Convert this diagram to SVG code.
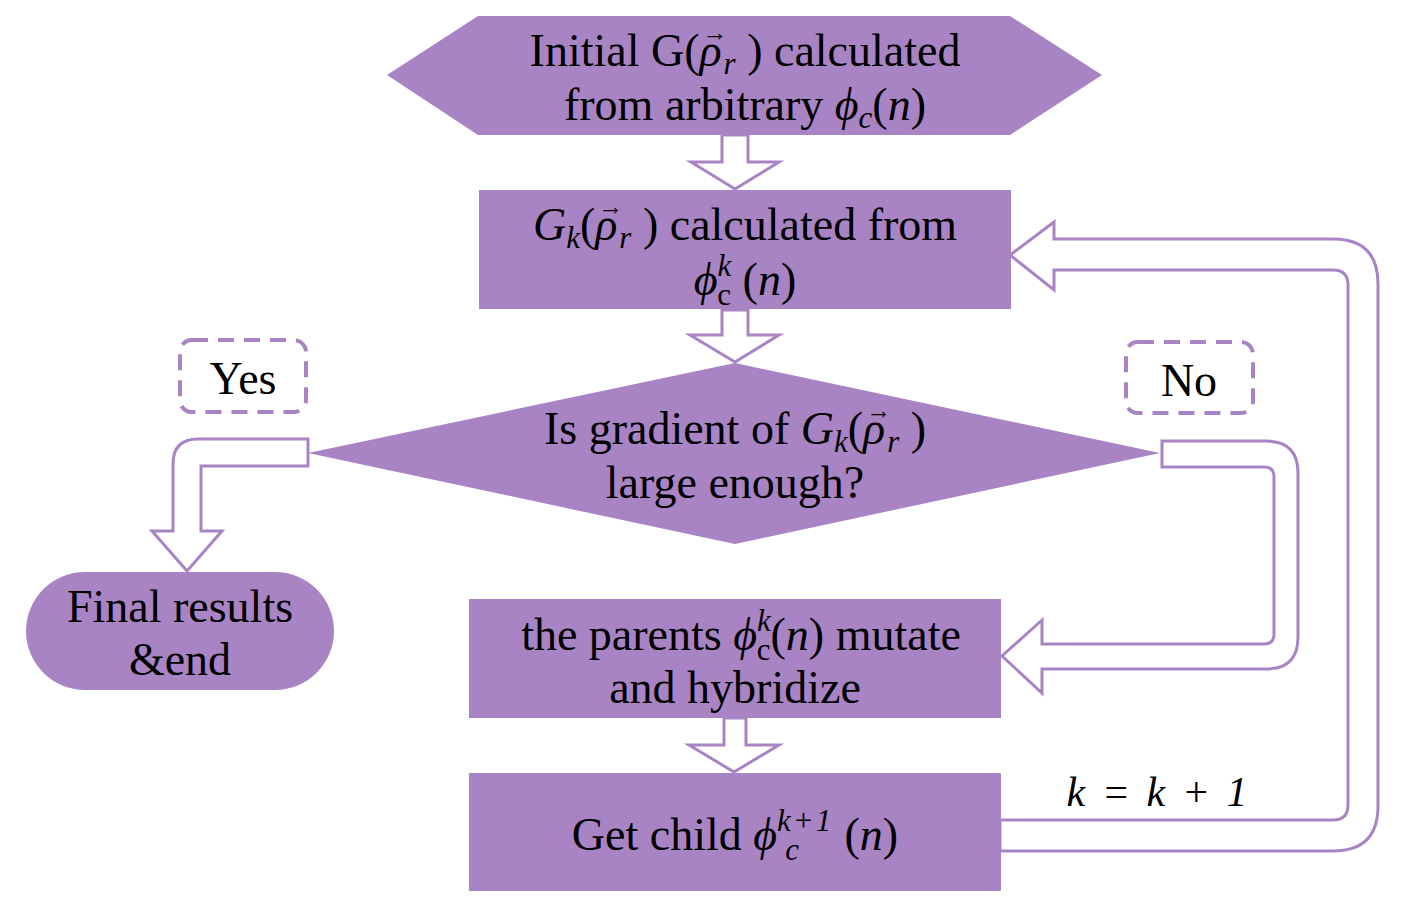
<svg xmlns="http://www.w3.org/2000/svg" width="1413" height="902" viewBox="0 0 1413 902">
<style>
.node{fill:#A984C5;stroke:none}
.arrow{fill:#FFFFFF;stroke:#A984C5;stroke-width:3;stroke-linejoin:miter}
.dash{fill:none;stroke:#A984C5;stroke-width:4;stroke-dasharray:16 10}
.t{font-family:'Liberation Serif','DejaVu Serif',serif;font-size:46px;fill:#000000;text-anchor:middle}
.m{font-style:italic}
.s{font-size:31px}
.v{font-size:25px;font-style:normal}
</style>
<rect width="1413" height="902" fill="#FFFFFF"/>
<g id="connectors">
<path class="arrow" d="M722,135 V162 H691 L735,189 L779,162 H748 V135 Z"/>
<path class="arrow" d="M722,310 V335 H690 L735,362 L779,335 H748 V310 Z"/>
<path class="arrow" d="M724,718 V745 H689 L734,772 L779,745 H746 V718 Z"/>
<path class="arrow" d="M308,439 H198 Q173,439 173,464 V531 H152 L187,571 L222,531 H201 V466 H308 Z"/>
<path class="arrow" d="M1162,441 H1266 Q1298,441 1298,473 V637 Q1298,669 1266,669 H1042 V693 L1002,656 L1042,620 V644 H1264 Q1274,644 1274,634 V477 Q1274,467 1264,467 H1162 Z"/>
<path class="arrow" d="M1000,820 H1333 Q1348,820 1348,805 V285 Q1348,270 1333,270 H1054 V290 L1010,255 L1054,222 V239 H1333 Q1378,239 1378,284 V806 Q1378,851 1333,851 H1000 Z"/>
</g>
<g id="start" font-family="Liberation Serif, serif">
<polygon class="node" points="387,75 478,16 1010,16 1102,75 1010,135 478,135"/>
<text class="t" x="745" y="66">Initial G(<tspan class="m">ρ</tspan><tspan class="v" dx="-19" dy="-25">→</tspan><tspan class="m s" dx="-4" dy="33">r</tspan><tspan dy="-8"> ) calculated</tspan></text>
<text class="t" x="745" y="120">from arbitrary <tspan class="m">ϕ</tspan><tspan class="m s" dy="8">c</tspan><tspan dy="-8">(</tspan><tspan class="m">n</tspan>)</text>
</g>
<g id="compute" font-family="Liberation Serif, serif">
<rect class="node" x="479" y="190" width="532" height="119"/>
<text class="t" x="745" y="240"><tspan class="m">G</tspan><tspan class="m s" dy="8">k</tspan><tspan dy="-8">(</tspan><tspan class="m">ρ</tspan><tspan class="v" dx="-19" dy="-25">→</tspan><tspan class="m s" dx="-4" dy="33">r</tspan><tspan dy="-8"> ) calculated from</tspan></text>
<text class="t" x="745" y="295"><tspan class="m">ϕ</tspan><tspan class="m s" dy="-19">k</tspan><tspan class="s" dx="-14" dy="29">c</tspan><tspan dy="-10"> (</tspan><tspan class="m">n</tspan>)</text>
</g>
<g id="decision" font-family="Liberation Serif, serif">
<polygon class="node" points="308,453 735,363 1160,453 735,544"/>
<text class="t" x="735" y="444">Is gradient of <tspan class="m">G</tspan><tspan class="m s" dy="8">k</tspan><tspan dy="-8">(</tspan><tspan class="m">ρ</tspan><tspan class="v" dx="-19" dy="-25">→</tspan><tspan class="m s" dx="-4" dy="33">r</tspan><tspan dy="-8"> )</tspan></text>
<text class="t" x="735" y="498">large enough?</text>
</g>
<g id="yes-label" font-family="Liberation Serif, serif">
<rect class="dash" x="180" y="340" width="126" height="72" rx="12"/>
<text class="t" x="243" y="394">Yes</text>
</g>
<g id="no-label" font-family="Liberation Serif, serif">
<rect class="dash" x="1126" y="342" width="127" height="71" rx="12"/>
<text class="t" x="1189" y="396">No</text>
</g>
<g id="end" font-family="Liberation Serif, serif">
<rect class="node" x="26" y="572" width="308" height="118" rx="59"/>
<text class="t" x="180" y="622">Final results</text>
<text class="t" x="180" y="675">&amp;end</text>
</g>
<g id="mutate" font-family="Liberation Serif, serif">
<rect class="node" x="469" y="599" width="532" height="119"/>
<text class="t" x="741" y="650">the parents <tspan class="m">ϕ</tspan><tspan class="m s" dy="-19">k</tspan><tspan class="s" dx="-14" dy="29">c</tspan><tspan dy="-10">(</tspan><tspan class="m">n</tspan>) mutate</text>
<text class="t" x="735" y="703">and hybridize</text>
</g>
<g id="child" font-family="Liberation Serif, serif">
<rect class="node" x="469" y="773" width="532" height="118"/>
<text class="t" x="735" y="850">Get child <tspan class="m">ϕ</tspan><tspan class="m s" dy="-19" letter-spacing="2">k+1</tspan><tspan class="m s" dx="-48" dy="29">c</tspan><tspan dx="34" dy="-10"> (</tspan><tspan class="m">n</tspan>)</text>
</g>
<g id="loop-label" font-family="Liberation Serif, serif">
<text class="t m" x="1157" y="806" style="font-size:42px;word-spacing:6px">k = k + 1</text>
</g>
</svg>
